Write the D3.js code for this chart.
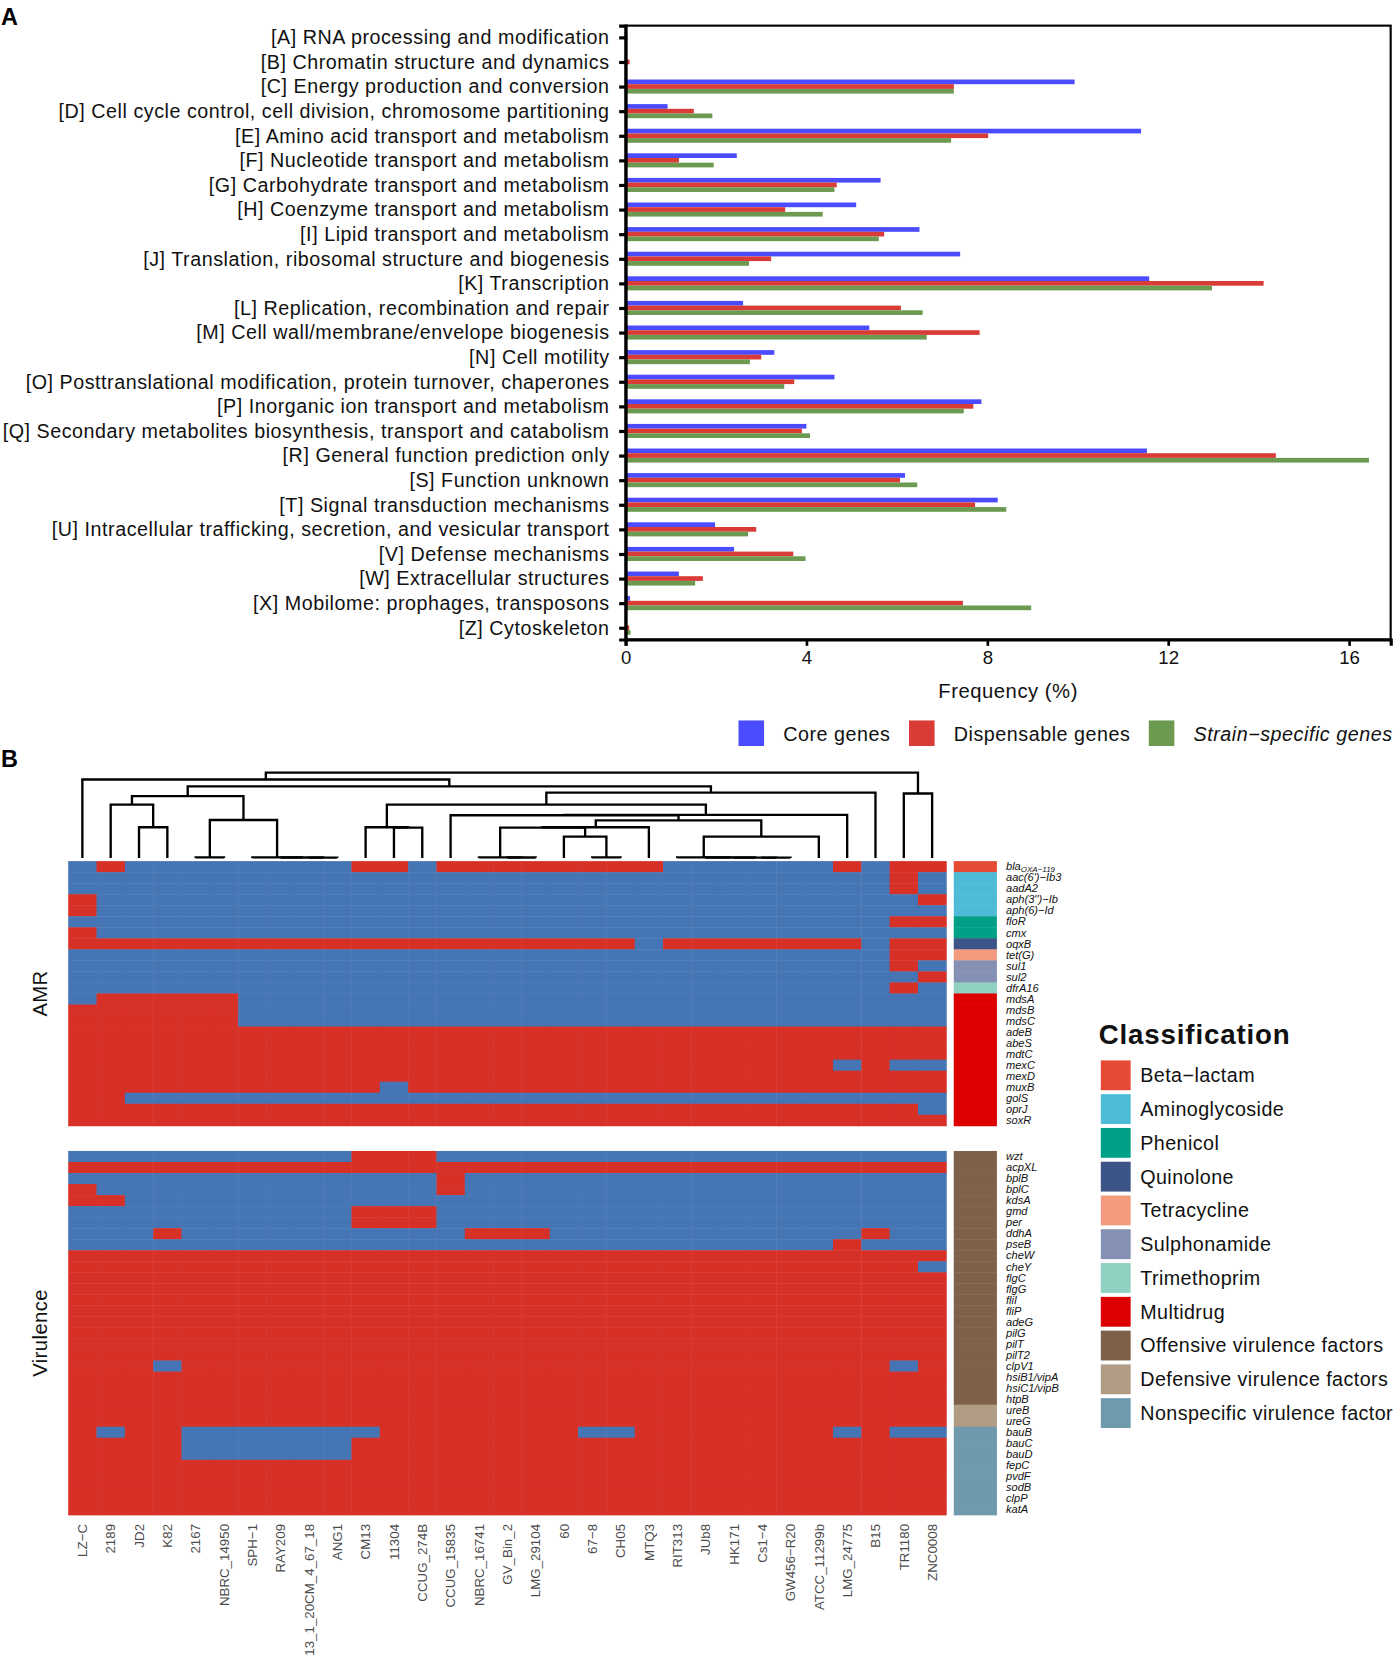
<!DOCTYPE html>
<html>
<head>
<meta charset="utf-8">
<title>COG frequency and AMR / virulence heatmap</title>
<script src="https://d3js.org/d3.v7.min.js"></script>
<style>
  body { margin: 0; background: #fff; }
  svg { display: block; font-family: "Liberation Sans", Arial, sans-serif; }
</style>
</head>
<body>
<script>
// ---------- panel A data ----------
const cogCategories = [
  "[A] RNA processing and modification",
  "[B] Chromatin structure and dynamics",
  "[C] Energy production and conversion",
  "[D] Cell cycle control, cell division, chromosome partitioning",
  "[E] Amino acid transport and metabolism",
  "[F] Nucleotide transport and metabolism",
  "[G] Carbohydrate transport and metabolism",
  "[H] Coenzyme transport and metabolism",
  "[I] Lipid transport and metabolism",
  "[J] Translation, ribosomal structure and biogenesis",
  "[K] Transcription",
  "[L] Replication, recombination and repair",
  "[M] Cell wall/membrane/envelope biogenesis",
  "[N] Cell motility",
  "[O] Posttranslational modification, protein turnover, chaperones",
  "[P] Inorganic ion transport and metabolism",
  "[Q] Secondary metabolites biosynthesis, transport and catabolism",
  "[R] General function prediction only",
  "[S] Function unknown",
  "[T] Signal transduction mechanisms",
  "[U] Intracellular trafficking, secretion, and vesicular transport",
  "[V] Defense mechanisms",
  "[W] Extracellular structures",
  "[X] Mobilome: prophages, transposons",
  "[Z] Cytoskeleton"
];
const coreGenes =           [0.03, 0.02, 9.93, 0.93, 11.40, 2.46, 5.64, 5.10, 6.50, 7.40, 11.58, 2.60, 5.39, 3.29, 4.62, 7.87, 4.00, 11.53, 6.18, 8.23, 1.98, 2.40, 1.18, 0.10, 0.02];
const dispensableGenes =    [0.04, 0.09, 7.26, 1.51, 8.02, 1.18, 4.67, 3.53, 5.72, 3.22, 14.11, 6.09, 7.83, 3.00, 3.73, 7.69, 3.90, 14.38, 6.07, 7.73, 2.89, 3.71, 1.71, 7.46, 0.08];
const strainSpecificGenes = [0.00, 0.00, 7.26, 1.92, 7.20, 1.95, 4.62, 4.36, 5.60, 2.73, 12.97, 6.57, 6.66, 2.75, 3.51, 7.48, 4.08, 16.44, 6.45, 8.42, 2.71, 3.98, 1.54, 8.97, 0.11];
const barSeries = ["Core genes", "Dispensable genes", "Strain\u2212specific genes"];
const barColors = ["#4B4BFF", "#D93B36", "#6B9A50"];
const freqTicks = [0, 4, 8, 12, 16];

// ---------- panel B data ----------
const strains = ["LZ\u2212C", "2189", "JD2", "K82", "2167", "NBRC_14950", "SPH\u22121", "RAY209",
  "13_1_20CM_4_67_18", "ANG1", "CM13", "11304", "CCUG_274B", "CCUG_15835", "NBRC_16741",
  "GV_Bin_2", "LMG_29104", "60", "67\u22128", "CH05", "MTQ3", "RIT313", "JUb8", "HK171",
  "Cs1\u22124", "GW456\u2212R20", "ATCC_11299b", "LMG_24775", "B15", "TR1180", "ZNC0008"];

const amrGenes = ["bla|OXA\u2212119", "aac(6')\u2212Ib3", "aadA2", "aph(3'')\u2212Ib", "aph(6)\u2212Id", "floR",
  "cmx", "oqxB", "tet(G)", "sul1", "sul2", "dfrA16", "mdsA", "mdsB", "mdsC", "adeB", "abeS",
  "mdtC", "mexC", "mexD", "muxB", "golS", "oprJ", "soxR"];
const amrClass = ["Beta\u2212lactam", "Aminoglycoside", "Aminoglycoside", "Aminoglycoside", "Aminoglycoside",
  "Phenicol", "Phenicol", "Quinolone", "Tetracycline", "Sulphonamide", "Sulphonamide", "Trimethoprim",
  "Multidrug", "Multidrug", "Multidrug", "Multidrug", "Multidrug", "Multidrug", "Multidrug",
  "Multidrug", "Multidrug", "Multidrug", "Multidrug", "Multidrug"];
// 1 = present (red), 0 = absent (blue); one character per strain
const amrMatrix = [
  "0100000000110111111110000001011",
  "0000000000000000000000000000010",
  "0000000000000000000000000000010",
  "1000000000000000000000000000001",
  "1000000000000000000000000000000",
  "0000000000000000000000000000011",
  "1000000000000000000000000000000",
  "1111111111111111111101111111011",
  "0000000000000000000000000000011",
  "0000000000000000000000000000010",
  "0000000000000000000000000000001",
  "0000000000000000000000000000010",
  "0111110000000000000000000000000",
  "1111110000000000000000000000000",
  "1111110000000000000000000000000",
  "1111111111111111111111111111111",
  "1111111111111111111111111111111",
  "1111111111111111111111111111111",
  "1111111111111111111111111110100",
  "1111111111111111111111111111111",
  "1111111111101111111111111111111",
  "1100000000000000000000000000000",
  "1111111111111111111111111111110",
  "1111111111111111111111111111111"
];

const virGenes = ["wzt", "acpXL", "bplB", "bplC", "kdsA", "gmd", "per", "ddhA", "pseB", "cheW",
  "cheY", "flgC", "flgG", "fliI", "fliP", "adeG", "pilG", "pilT", "pilT2", "clpV1", "hsiB1/vipA",
  "hsiC1/vipB", "htpB", "ureB", "ureG", "bauB", "bauC", "bauD", "fepC", "pvdF", "sodB", "clpP", "katA"];
const virClass = [
  ...Array(23).fill("Offensive virulence factors"),
  ...Array(2).fill("Defensive virulence factors"),
  ...Array(8).fill("Nonspecific virulence factor")
];
const virMatrix = [
  "0000000000111000000000000000000",
  "1111111111111111111111111111111",
  "0000000000000100000000000000000",
  "1000000000000100000000000000000",
  "1100000000000000000000000000000",
  "0000000000111000000000000000000",
  "0000000000111000000000000000000",
  "0001000000000011100000000000100",
  "0000000000000000000000000001000",
  "1111111111111111111111111111111",
  "1111111111111111111111111111110",
  "1111111111111111111111111111111",
  "1111111111111111111111111111111",
  "1111111111111111111111111111111",
  "1111111111111111111111111111111",
  "1111111111111111111111111111111",
  "1111111111111111111111111111111",
  "1111111111111111111111111111111",
  "1111111111111111111111111111111",
  "1110111111111111111111111111101",
  "1111111111111111111111111111111",
  "1111111111111111111111111111111",
  "1111111111111111111111111111111",
  "1111111111111111111111111111111",
  "1111111111111111111111111111111",
  "1011000000011111110011111110100",
  "1111000000111111111111111111111",
  "1111000000111111111111111111111",
  "1111111111111111111111111111111",
  "1111111111111111111111111111111",
  "1111111111111111111111111111111",
  "1111111111111111111111111111111",
  "1111111111111111111111111111111"
];

const classNames = ["Beta\u2212lactam", "Aminoglycoside", "Phenicol", "Quinolone", "Tetracycline",
  "Sulphonamide", "Trimethoprim", "Multidrug", "Offensive virulence factors",
  "Defensive virulence factors", "Nonspecific virulence factor"];
const classColors = ["#E64B35", "#4DBBD5", "#00A087", "#3C5488", "#F39B7F", "#8491B4",
  "#91D1C2", "#DC0000", "#7E6148", "#B09C85", "#6F99AD"];

// column dendrogram: [height, left, right], leaves are strain names
const dendroTree = [1.00,
  [0.92, "LZ\u2212C",
    [0.84,
      [0.725,
        [0.625, "2189", [0.36, "JD2", "K82"]],
        [0.445, [0.006, "2167", "NBRC_14950"],
                [0.006, "SPH\u22121", [0.005, "RAY209", [0.004, "13_1_20CM_4_67_18", "ANG1"]]]]
      ],
      [0.765,
        [0.625,
          [0.36, "CM13", [0.355, "11304", "CCUG_274B"]],
          [0.505,
            [0.50, "CCUG_15835",
              [0.44,
                [0.36,
                  [0.355, [0.006, "NBRC_16741", [0.005, "GV_Bin_2", "LMG_29104"]],
                          [0.25, "60", [0.006, "67\u22128", "CH05"]]],
                  "MTQ3"],
                [0.25,
                  [0.006, "RIT313", [0.005, "JUb8", [0.004, "HK171", [0.003, "Cs1\u22124", "GW456\u2212R20"]]]],
                  "ATCC_11299b"]
              ]
            ],
            "LMG_24775"
          ]
        ],
        "B15"
      ]
    ]
  ],
  [0.755, "TR1180", "ZNC0008"]
];

// ---------- drawing ----------
const W = 1310, H = 1567;
const svg = d3.select("body").append("svg")
  .attr("width", 1396)
  .attr("height", 1670)
  .attr("viewBox", `0 0 ${W} ${H}`);

// panel letters
svg.append("text").attr("x", 1).attr("y", 23).attr("font-size", 22).attr("font-weight", "bold").text("A");
svg.append("text").attr("x", 1).attr("y", 720).attr("font-size", 22).attr("font-weight", "bold").text("B");

// ===== Panel A: grouped horizontal bars =====
const plotLeft = 587, plotRight = 1305, plotTop = 24, plotBottom = 600;
const xFreq = d3.scaleLinear().domain([0, 16.92]).range([plotLeft, plotRight]);
const yCat = d3.scalePoint().domain(cogCategories).range([plotTop, plotBottom]).padding(0.476);
const ySeries = d3.scaleBand().domain(barSeries).range([-6.6, 6.6]);
const seriesValues = [coreGenes, dispensableGenes, strainSpecificGenes];

const barG = svg.append("g");
barG.selectAll("g")
  .data(cogCategories)
  .join("g")
  .attr("transform", d => `translate(0,${yCat(d)})`)
  .selectAll("rect")
  .data((d, i) => barSeries.map((s, j) => ({ s, j, v: seriesValues[j][i] })))
  .join("rect")
  .attr("x", xFreq(0))
  .attr("y", d => ySeries(d.s))
  .attr("width", d => xFreq(d.v) - xFreq(0))
  .attr("height", ySeries.bandwidth())
  .attr("fill", d => barColors[d.j]);

// panel border
svg.append("rect")
  .attr("x", plotLeft).attr("y", plotTop)
  .attr("width", plotRight - plotLeft).attr("height", plotBottom - plotTop)
  .attr("fill", "none").attr("stroke", "#000").attr("stroke-width", 2);

const yAxisG = svg.append("g")
  .attr("transform", `translate(${plotLeft},0)`)
  .call(d3.axisLeft(yCat).tickSize(6).tickPadding(9));
yAxisG.select(".domain").attr("stroke-width", 3);
yAxisG.selectAll(".tick line").attr("stroke-width", 3);
yAxisG.selectAll(".tick text").attr("font-size", 18.5).attr("letter-spacing", 0.5).attr("fill", "#111")
  .attr("font-family", "Liberation Sans, Arial, sans-serif");

const xAxisG = svg.append("g")
  .attr("transform", `translate(0,${plotBottom})`)
  .call(d3.axisBottom(xFreq).tickValues(freqTicks).tickSize(6).tickPadding(5));
xAxisG.select(".domain").attr("stroke-width", 3);
xAxisG.selectAll(".tick line").attr("stroke-width", 2.5);
xAxisG.selectAll(".tick text").attr("font-size", 17.5).attr("fill", "#111")
  .attr("font-family", "Liberation Sans, Arial, sans-serif");

svg.append("text")
  .attr("x", (plotLeft + plotRight) / 2).attr("y", 655)
  .attr("text-anchor", "middle").attr("font-size", 19).attr("letter-spacing", 0.5).attr("fill", "#111")
  .text("Frequency (%)");

// legend A
const legendA = [693, 853, 1078];
barSeries.forEach((s, i) => {
  svg.append("rect").attr("x", legendA[i]).attr("y", 676).attr("width", 24).attr("height", 24)
    .attr("fill", barColors[i]);
  svg.append("text").attr("x", legendA[i] + 42).attr("y", 695)
    .attr("font-size", 18.5).attr("letter-spacing", 0.5).attr("fill", "#111")
    .attr("font-style", i === 2 ? "italic" : "normal")
    .text(s);
});

// ===== Panel B: dendrogram + heatmaps =====
const heatLeft = 64, heatRight = 888;
const xHeat = d3.scaleBand().domain(strains).range([heatLeft, heatRight]);
const rowH = 10.35;
const amrTop = 808, virTop = 1080;
const yAmr = d3.scaleBand().domain(amrGenes).range([amrTop, amrTop + rowH * amrGenes.length]);
const yVir = d3.scaleBand().domain(virGenes).range([virTop, virTop + rowH * virGenes.length]);
const hScale = d3.scaleLinear().domain([0, 1]).range([805, 725]);
const presenceColor = d3.scaleOrdinal().domain(["0", "1"]).range(["#4575B4", "#D73027"]);
const classColor = d3.scaleOrdinal().domain(classNames).range(classColors);

// dendrogram
const dendroPaths = [];
function layoutNode(node) {
  if (typeof node === "string") return { x: xHeat(node) + xHeat.bandwidth() / 2, y: hScale(0) };
  const [h, a, b] = node;
  const l = layoutNode(a), r = layoutNode(b);
  const y = hScale(h);
  dendroPaths.push(`M${l.x},${l.y}V${y}H${r.x}V${r.y}`);
  return { x: (l.x + r.x) / 2, y };
}
layoutNode(dendroTree);
svg.append("g").selectAll("path")
  .data(dendroPaths)
  .join("path")
  .attr("d", d => d)
  .attr("fill", "none")
  .attr("stroke", "#000")
  .attr("stroke-width", 2.2);

function drawBlock(genes, matrix, classes, yScale, title) {
  const cells = matrix.flatMap((row, r) => row.split("").map((v, c) => ({ gene: genes[r], strain: strains[c], v })));
  const g = svg.append("g");
  g.selectAll("rect.cell")
    .data(cells)
    .join("rect")
    .attr("class", "cell")
    .attr("x", d => xHeat(d.strain))
    .attr("y", d => yScale(d.gene))
    .attr("width", xHeat.bandwidth() + 0.4)
    .attr("height", yScale.bandwidth() + 0.4)
    .attr("fill", d => presenceColor(d.v));

  // classification annotation bar
  g.selectAll("rect.cls")
    .data(genes)
    .join("rect")
    .attr("class", "cls")
    .attr("x", 895)
    .attr("y", d => yScale(d))
    .attr("width", 40.5)
    .attr("height", yScale.bandwidth() + 0.4)
    .attr("fill", (d, i) => classColor(classes[i]));

  // row labels
  const lab = g.selectAll("text.row")
    .data(genes)
    .join("text")
    .attr("class", "row")
    .attr("x", 944)
    .attr("y", d => yScale(d) + yScale.bandwidth() / 2 + 3.5)
    .attr("font-size", 10.4)
    .attr("font-style", "italic")
    .attr("fill", "#111");
  lab.each(function (d) {
    const t = d3.select(this);
    if (d.includes("|")) {
      const [base, sub] = d.split("|");
      t.append("tspan").text(base);
      t.append("tspan").attr("font-size", 7.5).attr("dy", 2).text(sub);
    } else {
      t.text(d);
    }
  });

  // block title
  const [y0, y1] = yScale.range();
  svg.append("text")
    .attr("transform", `translate(44,${(y0 + y1) / 2}) rotate(-90)`)
    .attr("text-anchor", "middle")
    .attr("font-size", 19)
    .attr("letter-spacing", 0.4)
    .attr("fill", "#111")
    .text(title);
}
drawBlock(amrGenes, amrMatrix, amrClass, yAmr, "AMR");
drawBlock(virGenes, virMatrix, virClass, yVir, "Virulence");

// column labels
svg.append("g").selectAll("text")
  .data(strains)
  .join("text")
  .attr("transform", d => `translate(${xHeat(d) + xHeat.bandwidth() / 2 + 4.5},1430) rotate(-90)`)
  .attr("text-anchor", "end")
  .attr("font-size", 12.5)
  .attr("fill", "#4d4d4d")
  .text(d => d);

// classification legend
svg.append("text").attr("x", 1031).attr("y", 980)
  .attr("font-size", 26).attr("letter-spacing", 0.8).attr("font-weight", "bold").attr("fill", "#111")
  .text("Classification");
const legB = svg.append("g").selectAll("g")
  .data(classNames)
  .join("g")
  .attr("transform", (d, i) => `translate(1033,${995 + i * 31.7})`);
legB.append("rect").attr("width", 28).attr("height", 28).attr("fill", d => classColor(d));
legB.append("text").attr("x", 37).attr("y", 20.5).attr("font-size", 18.5).attr("letter-spacing", 0.4)
  .attr("fill", "#111").text(d => d);
</script>
</body>
</html>
